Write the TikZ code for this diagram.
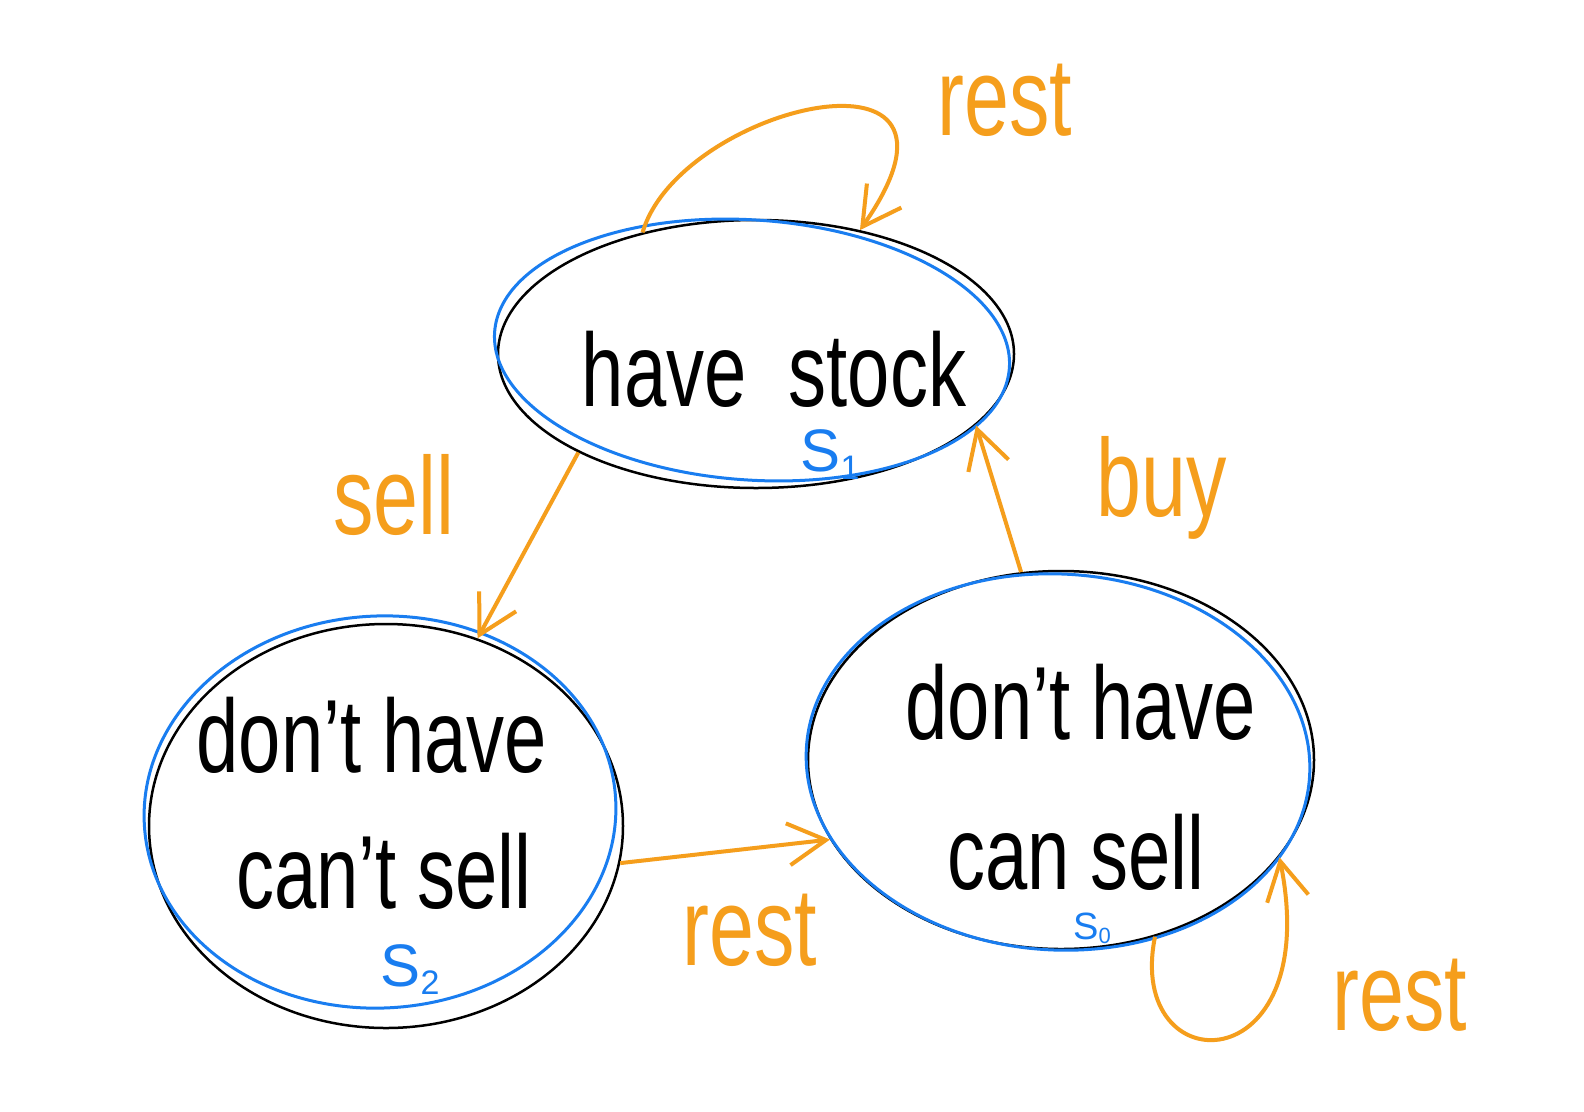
\documentclass[tikz,border=0pt]{standalone}
\usepackage{fontspec}
\setmainfont{Liberation Sans}
\usetikzlibrary{shapes.geometric,arrows.meta}
\definecolor{ora}{RGB}{245,158,28}
\definecolor{blu}{RGB}{25,125,240}
\newcommand\talltext[1]{\scalebox{0.95}[1.3]{#1}}
\begin{document}
\begin{tikzpicture}[x=1pt,y=-1pt,
  state/.style={ellipse,draw=black,line width=2.5pt,inner sep=0pt},
  ring/.style={draw=blu,line width=3pt},
  txt/.style={font=\fontsize{80}{135}\selectfont,inner sep=0pt},
  lab/.style={text=ora,font=\fontsize{85}{90}\selectfont,inner sep=0pt},
  sid/.style={text=blu,font=\fontsize{60}{60}\selectfont,inner sep=0pt},
  arr/.style={draw=ora,line width=4pt,-{Straight Barb[length=38pt,width=42pt,line width=4pt]}}]
\useasboundingbox (0,0) rectangle (1584,1111);
\fill[white] (0,0) rectangle (1584,1111);

% states (black outlines)
\node[state,minimum width=516pt,minimum height=268pt] (top) at (756,354) {};
\node[state,minimum width=474pt,minimum height=404pt] (left) at (386,826) {};
\node[state,minimum width=506pt,minimum height=378pt] (right) at (1061,760) {};

% blue sketch outlines
\draw[ring,rotate around={-4:(752,350)}] (752,350) ellipse [x radius=258, y radius=130];
\draw[ring,rotate around={3:(380,812)}] (380,812) ellipse [x radius=236, y radius=196];
\draw[ring,rotate around={-3:(1058,762)}] (1058,762) ellipse [x radius=252, y radius=188];

% texts
\node[txt] (ttop) at (774,369) {\talltext{have\ \ stock}};
\node[txt] (tleft1) at (372,735) {\talltext{don't have}};
\node[txt] (tleft2) at (384,871) {\talltext{can't sell}};
\node[txt] (tright1) at (1081,702) {\talltext{don't have}};
\node[txt] (tright2) at (1076,852) {\talltext{can sell}};

% state ids
\node[sid] (s1) at (830,455) {S\raisebox{-0.25ex}{\fontsize{34}{34}\selectfont 1}};
\node[sid] (s2) at (410,970) {S\raisebox{-0.25ex}{\fontsize{34}{34}\selectfont 2}};
\node[sid,font=\fontsize{38}{38}\selectfont] (s0) at (1092,928) {S\raisebox{-0.2ex}{\fontsize{22}{22}\selectfont 0}};

% transitions
\draw[arr] (top.209) -- (left.64);
\draw[arr] (right.102) -- (top.342);
\draw[arr] (left.351) -- (right.199);
\draw[arr] (top.133) .. controls (680,105) and (1000,30) .. (top.50);
\draw[arr] (right.298) .. controls (1125,1085) and (1325,1085) .. (right.336);

% labels
\node[lab] (lrest1) at (1005,100) {\talltext{rest}};
\node[lab] (lsell) at (394,495) {\talltext{sell}};
\node[lab] (lbuy) at (1162,488) {\talltext{buy}};
\node[lab] (lrest2) at (750,930) {\talltext{rest}};
\node[lab] (lrest3) at (1400,995) {\talltext{rest}};
\end{tikzpicture}
\end{document}
